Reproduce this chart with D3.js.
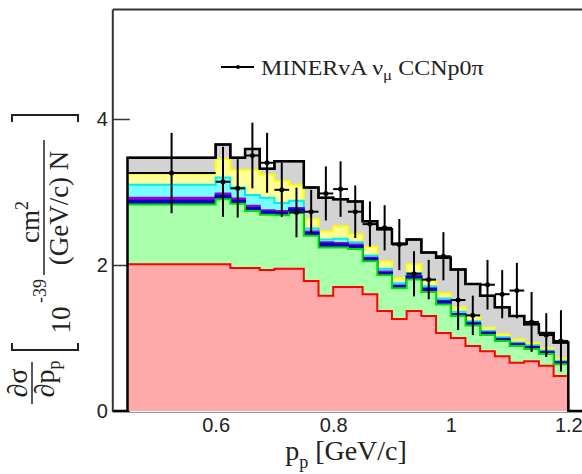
<!DOCTYPE html>
<html>
<head>
<meta charset="utf-8">
<script src="https://cdn.jsdelivr.net/npm/d3@7"></script>
<style>
  body { margin: 0; background: #fff; }
  svg { display: block; font-family: "Liberation Serif", "DejaVu Serif", serif; }
</style>
</head>
<body>
<div id="chart"></div>
<script>
// proton momentum bin edges [GeV/c]
const binEdges = [0.45, 0.6, 0.625, 0.65, 0.675, 0.7, 0.725, 0.75, 0.775, 0.8, 0.825, 0.85, 0.875, 0.9,
  0.925, 0.95, 0.975, 1.0, 1.025, 1.05, 1.075, 1.1, 1.125, 1.15, 1.175, 1.2];

// stacked prediction, bottom to top (one value per bin)
const stackRed    = [2.01, 2.01, 1.96, 1.96, 1.93, 1.95, 1.95, 1.78, 1.58, 1.70, 1.70, 1.60, 1.37, 1.26, 1.37, 1.30, 1.07, 1.00, 0.89, 0.82, 0.75, 0.66, 0.68, 0.62, 0.48];
const stackGreen  = [0.82, 0.89, 0.88, 0.78, 0.76, 0.73, 0.77, 0.62, 0.66, 0.54, 0.52, 0.45, 0.49, 0.42, 0.43, 0.33, 0.39, 0.30, 0.28, 0.22, 0.21, 0.23, 0.17, 0.16, 0.16];
const stackBlue   = [0.05, 0.05, 0.04, 0.04, 0.04, 0.04, 0.04, 0.04, 0.05, 0.04, 0.04, 0.04, 0.03, 0.03, 0.04, 0.04, 0.04, 0.02, 0.03, 0.03, 0.02, 0.02, 0.02, 0.02, 0.02];
const stackPurple = [0.04, 0.03, 0.03, 0.03, 0.02, 0.02, 0.02, 0.02, 0.02, 0.02, 0.02, 0.01, 0.02, 0.01, 0.01, 0.01, 0.01, 0.01, 0.01, 0.01, 0.01, 0.01, 0.01, 0.01, 0.01];
const stackCyan   = [0.18, 0.22, 0.15, 0.15, 0.17, 0.11, 0.10, 0.04, 0.04, 0.06, 0.03, 0.03, 0.04, 0.03, 0.04, 0.03, 0.03, 0.03, 0.02, 0.02, 0.02, 0.02, 0.02, 0.02, 0.02];
const stackYellow = [0.15, 0.25, 0.24, 0.34, 0.32, 0.30, 0.22, 0.13, 0.11, 0.17, 0.11, 0.12, 0.10, 0.07, 0.12, 0.07, 0.07, 0.06, 0.07, 0.04, 0.04, 0.04, 0.03, 0.03, 0.03];
const stackGray   = [0.22, 0.20, 0.17, 0.29, 0.08, 0.27, 0.32, 0.43, 0.46, 0.37, 0.45, 0.35, 0.44, 0.47, 0.34, 0.39, 0.49, 0.52, 0.44, 0.44, 0.37, 0.32, 0.26, 0.21, 0.22];

// MINERvA data points and errors
const dataValues = [3.26, 3.14, 3.05, 3.50, 3.40, 3.03, 2.72, 2.73, 2.98, 3.04, 2.73, 2.56, 2.51, 2.28, 1.88, 1.80, 2.12, 1.52, 1.31, 1.73, 1.60, 1.65, 1.22, 1.04, 0.96];
const dataErrors = [0.55, 0.48, 0.40, 0.45, 0.41, 0.37, 0.34, 0.30, 0.37, 0.38, 0.36, 0.31, 0.31, 0.35, 0.31, 0.27, 0.33, 0.41, 0.27, 0.34, 0.33, 0.38, 0.41, 0.30, 0.42];

const xTicks = [0.6, 0.8, 1, 1.2];
const yTicks = [0, 2, 4];

const width = 582;
const height = 474;

const layers = [
  { key: "red",    values: stackRed,    fill: "#ffaaaa", line: "#ff0000" },
  { key: "green",  values: stackGreen,  fill: "#aaffaa", line: "#00e000" },
  { key: "blue",   values: stackBlue,   fill: "#0000cc", line: "#0000cc" },
  { key: "purple", values: stackPurple, fill: "#9900cc", line: "#9900cc" },
  { key: "cyan",   values: stackCyan,   fill: "#77ffff", line: "#00eeee" },
  { key: "yellow", values: stackYellow, fill: "#ffff99", line: "#ffff00" },
  { key: "gray",   values: stackGray,   fill: "#d3d3d3", line: "#000000" }
];

const svg = d3.select("#chart")
  .append("svg")
  .attr("width", width)
  .attr("height", height);

const x = d3.scaleLinear().domain([0.425, 1.225]).range([112.8, 583]);
const y = d3.scaleLinear().domain([0, 5.5]).range([411, 9.5]);

// axes go first, the histograms cover their inner ticks like in the original
const yAxis = svg.append("g")
  .attr("transform", "translate(" + x(0.425) + ",0)")
  .call(d3.axisLeft(y).tickValues(yTicks).tickSize(-17).tickPadding(5).tickFormat(d3.format("")));
yAxis.select(".domain").remove();
yAxis.selectAll("line").attr("stroke", "#333").attr("stroke-width", 1.5);
yAxis.selectAll("text").style("font-size", "20px").attr("fill", "#222");

const xAxis = svg.append("g")
  .attr("transform", "translate(0," + y(0) + ")")
  .call(d3.axisBottom(x).tickValues(xTicks).tickSize(-12).tickPadding(7).tickFormat(d3.format("")));
xAxis.select(".domain").remove();
xAxis.selectAll("line").attr("stroke", "#333");
xAxis.selectAll("text").style("font-size", "20px").attr("fill", "#222");

// stack the components
const rows = stackRed.map((d, i) => {
  const r = {};
  layers.forEach(l => { r[l.key] = l.values[i]; });
  return r;
});
const stacked = d3.stack().keys(layers.map(l => l.key))(rows);

const stepArea = d3.area()
  .x(d => x(d[0]))
  .y0(y(0))
  .y1(d => y(d[1]))
  .curve(d3.curveStepAfter);

const stepLine = d3.line()
  .x(d => x(d[0]))
  .y(d => y(d[1]))
  .curve(d3.curveStepAfter);

function stepPoints(vals) {
  const pts = vals.map((v, i) => [binEdges[i], v]);
  pts.push([binEdges[binEdges.length - 1], vals[vals.length - 1]]);
  return pts;
}

// draw from the top of the stack down, fill then outline
for (let k = layers.length - 1; k >= 0; k--) {
  const tops = stacked[k].map(d => d[1]);
  const pts = stepPoints(tops);
  svg.append("path")
    .attr("d", stepArea(pts))
    .attr("fill", layers[k].fill);
  svg.append("path")
    .attr("d", stepLine(pts))
    .attr("fill", "none")
    .attr("stroke", layers[k].line)
    .attr("stroke-width", 2);
}

// black outline of the total, with the empty edges at zero
const totals = stacked[layers.length - 1].map(d => d[1]);
const outline = [[0.425, 0]].concat(totals.map((v, i) => [binEdges[i], v]));
outline.push([1.2, 0], [1.225, 0]);
svg.append("path")
  .attr("d", stepLine(outline))
  .attr("fill", "none")
  .attr("stroke", "#000")
  .attr("stroke-width", 2.5);

// frame
svg.append("line")
  .attr("x1", x(0.425)).attr("x2", x(0.425))
  .attr("y1", y(5.5)).attr("y2", y(0) + 1)
  .attr("stroke", "#333").attr("stroke-width", 2);
svg.append("line")
  .attr("x1", x(0.425)).attr("x2", width)
  .attr("y1", y(5.5)).attr("y2", y(5.5))
  .attr("stroke", "#333").attr("stroke-width", 2);
svg.append("line")
  .attr("x1", x(0.425)).attr("x2", width)
  .attr("y1", y(0) + 1.5).attr("y2", y(0) + 1.5)
  .attr("stroke", "#999").attr("stroke-width", 1.2);

// data points
const pointsG = svg.append("g").attr("stroke", "#000").attr("stroke-width", 2);
dataValues.forEach((v, i) => {
  const lo = binEdges[i], hi = binEdges[i + 1];
  const c = (lo + hi) / 2;
  pointsG.append("line")
    .attr("x1", x(c)).attr("x2", x(c))
    .attr("y1", y(v - dataErrors[i])).attr("y2", y(v + dataErrors[i]));
  pointsG.append("line")
    .attr("x1", x(lo)).attr("x2", x(hi))
    .attr("y1", y(v)).attr("y2", y(v));
  pointsG.append("circle")
    .attr("cx", x(c)).attr("cy", y(v)).attr("r", 1.5).attr("fill", "#000");
});

// legend
svg.append("line")
  .attr("x1", 221).attr("x2", 254).attr("y1", 67).attr("y2", 67)
  .attr("stroke", "#000").attr("stroke-width", 2);
svg.append("circle").attr("cx", 238).attr("cy", 67).attr("r", 2).attr("fill", "#000");
const legText = svg.append("text")
  .attr("transform", "translate(261,75) scale(1.2,1)")
  .style("font-size", "20px").attr("fill", "#222");
legText.append("tspan").text("MINERvA ν");
legText.append("tspan").attr("dy", 5).style("font-size", "14px").text("μ");
legText.append("tspan").attr("dy", -5).text(" CCNp0π");

// x title
const xTitle = svg.append("text")
  .attr("x", 346).attr("y", 460)
  .attr("text-anchor", "middle")
  .style("font-size", "28px").attr("fill", "#222");
xTitle.append("tspan").text("p");
xTitle.append("tspan").attr("dy", 8).style("font-size", "18px").text("p");
xTitle.append("tspan").attr("dy", -8).text(" [GeV/c]");

// y title, rotated
const yTitle = svg.append("g")
  .attr("transform", "rotate(-90)")
  .attr("fill", "#222");
yTitle.append("text").attr("x", -383).attr("y", 27)
  .attr("text-anchor", "middle").style("font-size", "28px").text("∂σ");
yTitle.append("line").attr("x1", -404).attr("x2", -362).attr("y1", 32).attr("y2", 32)
  .attr("stroke", "#222").attr("stroke-width", 1.5);
const dp = yTitle.append("text").attr("x", -379).attr("y", 54)
  .attr("text-anchor", "middle").style("font-size", "28px");
dp.append("tspan").text("∂p");
dp.append("tspan").attr("dy", 6).style("font-size", "18px").text("p");
yTitle.append("path")
  .attr("d", "M-343,12 L-350,12 L-350,78 L-343,78")
  .attr("fill", "none").attr("stroke", "#222").attr("stroke-width", 2);
yTitle.append("text").attr("x", -320).attr("y", 70)
  .attr("text-anchor", "middle").style("font-size", "27px").text("10");
yTitle.append("text").attr("x", -291).attr("y", 46)
  .attr("text-anchor", "middle").style("font-size", "18px").text("-39");
const cm = yTitle.append("text").attr("x", -222).attr("y", 39)
  .attr("text-anchor", "middle").style("font-size", "27px");
cm.append("tspan").text("cm");
cm.append("tspan").attr("dy", -11).style("font-size", "18px").text("2");
yTitle.append("line").attr("x1", -275).attr("x2", -140).attr("y1", 44).attr("y2", 44)
  .attr("stroke", "#222").attr("stroke-width", 1.5);
yTitle.append("text").attr("x", -208).attr("y", 68)
  .attr("text-anchor", "middle").style("font-size", "27px").text("(GeV/c) N");
yTitle.append("path")
  .attr("d", "M-122,12 L-115,12 L-115,78 L-122,78")
  .attr("fill", "none").attr("stroke", "#222").attr("stroke-width", 2);
</script>
</body>
</html>
